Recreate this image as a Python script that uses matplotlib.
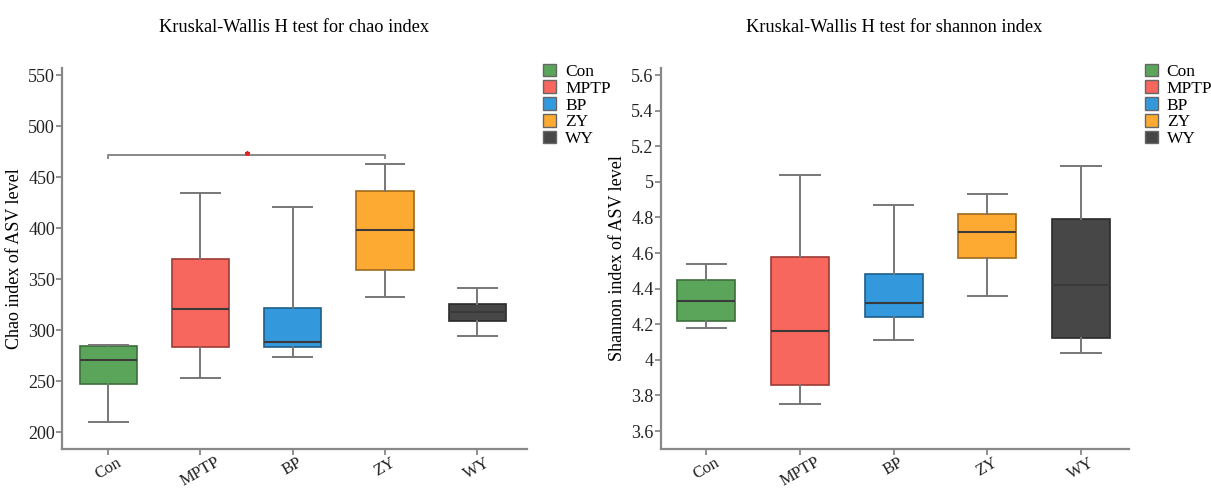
import numpy as np
import matplotlib
matplotlib.use('Agg')
import matplotlib.pyplot as plt
from matplotlib.patches import Patch
from matplotlib.ticker import FuncFormatter

plt.rcParams['font.family'] = ['Liberation Serif', 'DejaVu Serif']

groups = ['Con', 'MPTP', 'BP', 'ZY', 'WY']
colors = ['#5ba55b', '#f7675e', '#3399dc', '#fdaa33', '#474747']
edges = ['#3d6e3d', '#9c3b35', '#1f5f8a', '#a06a1c', '#2a2a2a']

# chao: 下须, Q1, 中位数, Q3, 上须
chao_lo = [210, 253, 274, 332, 294]
chao_q1 = [247, 283, 283, 359, 309]
chao_med = [271, 321, 288, 398, 318]
chao_q3 = [284, 370, 322, 436, 326]
chao_hi = [285, 434, 421, 463, 341]

shan_lo = [4.18, 3.75, 4.11, 4.36, 4.04]
shan_q1 = [4.22, 3.86, 4.24, 4.57, 4.12]
shan_med = [4.33, 4.16, 4.32, 4.72, 4.42]
shan_q3 = [4.45, 4.58, 4.48, 4.82, 4.79]
shan_hi = [4.54, 5.04, 4.87, 4.93, 5.09]

chao_ticks = [200, 250, 300, 350, 400, 450, 500, 550]
shan_ticks = [3.6, 3.8, 4.0, 4.2, 4.4, 4.6, 4.8, 5.0, 5.2, 5.4, 5.6]

# 显著性标记 Con vs ZY
sig_pair = (0, 3)
sig_y = 472


def make_stats(lo, q1, med, q3, hi):
    return [dict(whislo=lo[i], q1=q1[i], med=med[i], q3=q3[i], whishi=hi[i],
                 fliers=[], label=groups[i]) for i in range(len(groups))]


def draw_box(ax, stats, title, ylabel, ylim, ticks, xlim):
    bp = ax.bxp(stats, positions=range(len(groups)), widths=0.62,
                patch_artist=True, showfliers=False,
                whiskerprops=dict(color='#777777', lw=1.4),
                capprops=dict(color='#777777', lw=1.4),
                medianprops=dict(color='#3a3a3a', lw=1.5))
    for i, b in enumerate(bp['boxes']):
        b.set_facecolor(colors[i])
        b.set_edgecolor(edges[i])
        b.set_linewidth(1.2)
    for c in bp['caps']:
        x = c.get_xdata()
        m = x.mean()
        c.set_xdata([m - 0.21, m + 0.21])
    ax.set_xlim(*xlim)
    ax.set_ylim(*ylim)
    ax.set_yticks(ticks)
    ax.set_xticks(range(len(groups)))
    ax.set_xticklabels(groups, rotation=30, fontsize=12, color='#222222')
    ax.tick_params(axis='y', labelsize=13, colors='#888888', labelcolor='#222222',
                   length=4, width=1.3, pad=1)
    ax.tick_params(axis='x', colors='#888888', labelcolor='#222222',
                   length=4, width=1.3, pad=0)
    for s in ['top', 'right']:
        ax.spines[s].set_visible(False)
    for s in ['left', 'bottom']:
        ax.spines[s].set_color('#888888')
        ax.spines[s].set_linewidth(1.6)
    ax.set_ylabel(ylabel, fontsize=13, labelpad=4)
    ax.set_title(title, fontsize=13.2, pad=26)
    handles = [Patch(facecolor=colors[i], edgecolor='#666666', label=groups[i])
               for i in range(len(groups))]
    ax.legend(handles=handles, loc='upper left', bbox_to_anchor=(1.02, 1.03),
              frameon=False, fontsize=12.5, handlelength=0.75, handleheight=0.75,
              handletextpad=0.5, labelspacing=0.02, borderaxespad=0)


fig = plt.figure(figsize=(12.11, 4.9), dpi=100)
ax1 = fig.add_axes([0.0512, 0.084, 0.384, 0.777])
ax2 = fig.add_axes([0.5455, 0.084, 0.3865, 0.777])

draw_box(ax1, make_stats(chao_lo, chao_q1, chao_med, chao_q3, chao_hi),
         'Kruskal-Wallis H test for chao index', 'Chao index of ASV level',
         (183.5, 556.8), chao_ticks, (-0.5, 4.54))
draw_box(ax2, make_stats(shan_lo, shan_q1, shan_med, shan_q3, shan_hi),
         'Kruskal-Wallis H test for shannon index', 'Shannon index of ASV level',
         (3.5, 5.639), shan_ticks, (-0.49, 4.51))
ax2.yaxis.set_major_formatter(FuncFormatter(lambda v, p: '%g' % round(v, 1)))

a, b = sig_pair
ax1.plot([a, a, b, b], [sig_y - 3, sig_y, sig_y, sig_y - 3], color='#888888', lw=1.4)
ax1.plot([(a + b) / 2], [sig_y + 2], marker='*', color='#dd2222', markersize=3.5)

fig.savefig('out.png', dpi=100)
